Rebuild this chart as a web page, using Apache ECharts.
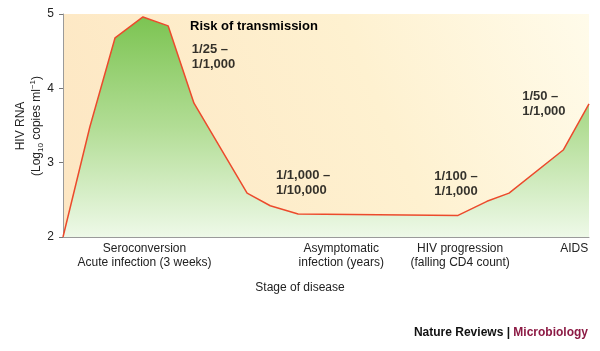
<!DOCTYPE html>
<html>
<head>
<meta charset="utf-8">
<script src="https://cdn.jsdelivr.net/npm/echarts@6/dist/echarts.min.js"></script>
<style>
  html, body { margin: 0; padding: 0; background: #fff; }
  #chart { width: 600px; height: 351px; }
</style>
</head>
<body>
<div id="chart"></div>
<script>
// time along the disease course (arbitrary units 0-100) and viral load (log10)
var stageX = [0, 5.1, 9.9, 15.2, 20.0, 24.9, 35.0, 39.4, 44.7, 75.1, 80.6, 84.8, 95.1, 100];
var hivRna = [2.0, 3.48, 4.68, 4.96, 4.84, 3.80, 2.59, 2.42, 2.31, 2.29, 2.48, 2.59, 3.17, 3.79];

// stage labels under the axis
var stageNames = ["Seroconversion\nAcute infection (3 weeks)", "Asymptomatic\ninfection (years)",
  "HIV progression\n(falling CD4 count)", "AIDS"];
var stagePos = [15.5, 52.9, 75.5, 97.2];

// risk of transmission notes
var riskLabels = ["1/25 –\n1/1,000", "1/1,000 –\n1/10,000", "1/100 –\n1/1,000", "1/50 –\n1/1,000"];
var riskX = [24.5, 40.5, 70.6, 87.3];
var riskY = [4.42, 2.73, 2.71, 3.79];

var yTicks = [2, 3, 4, 5];

var myChart = echarts.init(document.getElementById("chart"));
var font = "Liberation Sans, Arial, Helvetica, sans-serif";

var series = [
  {
    type: "line",
    data: stageX.map(function (x, i) { return [x, hivRna[i]]; }),
    symbol: "none",
    lineStyle: { color: "#ec4a2c", width: 1.5 },
    areaStyle: {
      origin: "start",
      opacity: 1,
      color: new echarts.graphic.LinearGradient(0, 0, 0, 1, [
        { offset: 0, color: "#7cc452" },
        { offset: 0.5, color: "#b2dd95" },
        { offset: 1, color: "#eef9e8" },
      ]),
    },
    z: 3,
  },
  {
    type: "scatter",
    data: riskX.map(function (x, i) { return [x, riskY[i], riskLabels[i]]; }),
    symbolSize: 0,
    label: {
      show: true,
      position: "right",
      distance: 0,
      formatter: function (p) { return p.data[2]; },
      fontFamily: font,
      fontSize: 13,
      fontWeight: "bold",
      lineHeight: 15,
      color: "#000",
      align: "left",
    },
    silent: true,
    z: 5,
  },
];

var option = {
  animation: false,
  grid: {
    left: 63,
    right: 11,
    top: 14,
    bottom: 114,
    show: true,
    borderWidth: 0,
    backgroundColor: new echarts.graphic.LinearGradient(0, 1, 1, 0, [
      { offset: 0, color: "#fde6c2" },
      { offset: 0.6, color: "#fef1d0" },
      { offset: 1, color: "#fffbea" },
    ]),
  },
  xAxis: {
    type: "value",
    min: 0,
    max: 100,
    axisLine: { show: true, lineStyle: { color: "#9a9a9a", width: 1 } },
    axisTick: { show: false },
    axisLabel: { show: false },
    splitLine: { show: false },
  },
  yAxis: {
    type: "value",
    min: 2,
    max: 5,
    interval: 1,
    axisLine: { show: true, lineStyle: { color: "#9a9a9a", width: 1 } },
    axisTick: { show: true, length: 4, lineStyle: { color: "#777" } },
    axisLabel: {
      color: "#222",
      fontFamily: font,
      fontSize: 12,
      margin: 9,
      formatter: function (v) { return yTicks.indexOf(v) >= 0 ? String(v) : ""; },
    },
    splitLine: { show: false },
  },
  graphic: [
    {
      // y axis title, rotated
      type: "text",
      x: 29,
      y: 126,
      rotation: Math.PI / 2,
      style: {
        text: "{a|HIV RNA}\n{b|(Log}{s|10}{b| copies ml}{p|−1}{b|)}",
        align: "center",
        verticalAlign: "middle",
        rich: {
          a: { font: "12px " + font, fill: "#222", lineHeight: 16, align: "center" },
          b: { font: "12px " + font, fill: "#222", lineHeight: 16 },
          s: { font: "8px " + font, fill: "#222", verticalAlign: "bottom", lineHeight: 16 },
          p: { font: "8px " + font, fill: "#222", verticalAlign: "top", lineHeight: 16 },
        },
      },
    },
    {
      type: "text",
      left: 190,
      top: 20,
      style: { text: "Risk of transmission", font: "bold 13px " + font, fill: "#000" },
      z: 10,
    },
    {
      type: "text",
      left: "center",
      top: 282,
      style: { text: "Stage of disease", font: "12px " + font, fill: "#222" },
    },
    {
      type: "text",
      right: 12,
      top: 327,
      style: {
        text: "{n|Nature Reviews | }{m|Microbiology}",
        rich: {
          n: { font: "bold 12px " + font, fill: "#111" },
          m: { font: "bold 12px " + font, fill: "#8c1a44" },
        },
      },
    },
  ],
  series: series,
};

myChart.setOption(option);

// stage labels positioned through the x scale
var gx = option.graphic;
stageNames.forEach(function (name, i) {
  var px = myChart.convertToPixel({ xAxisIndex: 0 }, stagePos[i]);
  gx.push({
    type: "text",
    x: px,
    y: 242,
    style: {
      text: name,
      font: "12px " + font,
      fill: "#222",
      align: "center",
      verticalAlign: "top",
      lineHeight: 14,
    },
  });
});
myChart.setOption({ graphic: gx });
</script>
</body>
</html>
